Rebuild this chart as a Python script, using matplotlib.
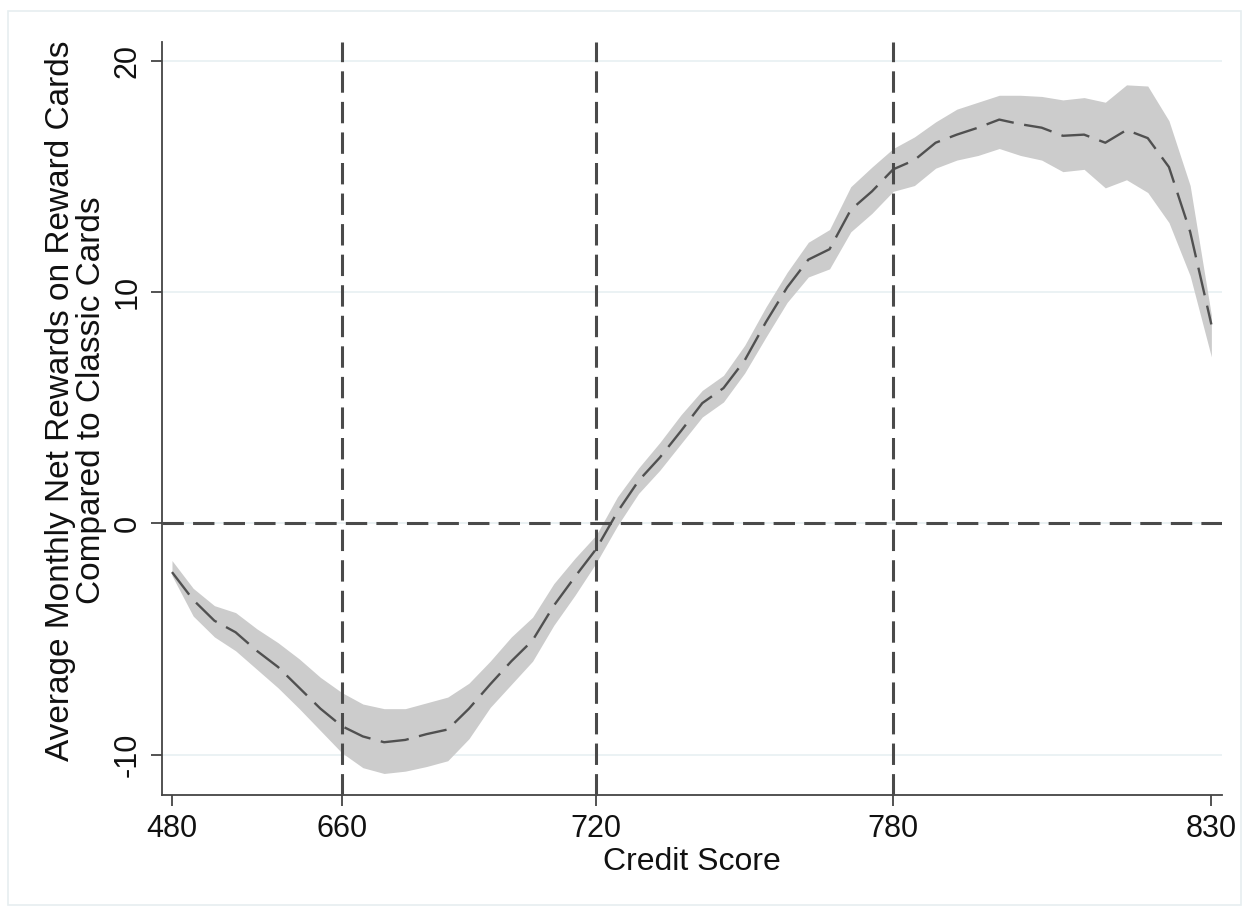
import numpy as np
import matplotlib
matplotlib.use('Agg')
import matplotlib.pyplot as plt
from matplotlib.patches import Rectangle

plt.rcParams['font.family'] = ['Liberation Sans', 'DejaVu Sans']

# 50 credit score bins (2-percentile bins), ticks labelled with the score
bins = np.arange(50)
tick_bins = [0, 8, 20, 34, 49]
tick_labels = ['480', '660', '720', '780', '830']
ref_bins = [8, 20, 34]

mean = [-2.1, -3.3, -4.2, -4.7, -5.5, -6.2, -7.1, -8.0, -8.75, -9.2,
        -9.45, -9.35, -9.1, -8.9, -8.0, -6.95, -5.95, -5.05, -3.55, -2.3,
        -1.1, 0.5, 1.85, 2.85, 4.0, 5.2, 5.85, 7.05, 8.7, 10.2,
        11.4, 11.85, 13.55, 14.35, 15.3, 15.7, 16.45, 16.8, 17.1, 17.45,
        17.25, 17.1, 16.75, 16.8, 16.45, 17.0, 16.65, 15.4, 12.6, 8.6]
upper = [-1.6, -2.8, -3.55, -3.85, -4.55, -5.15, -5.85, -6.65, -7.3, -7.8,
         -8.0, -8.0, -7.75, -7.5, -6.9, -5.95, -4.9, -4.05, -2.6, -1.5,
         -0.5, 1.15, 2.4, 3.5, 4.7, 5.75, 6.4, 7.7, 9.35, 10.85,
         12.15, 12.7, 14.55, 15.4, 16.2, 16.7, 17.35, 17.9, 18.2, 18.5,
         18.5, 18.45, 18.3, 18.4, 18.2, 18.95, 18.9, 17.4, 14.6, 9.0]
lower = [-2.25, -4.0, -4.9, -5.5, -6.3, -7.1, -8.0, -8.95, -9.9, -10.55,
         -10.8, -10.7, -10.5, -10.25, -9.3, -7.95, -6.95, -5.95, -4.4, -3.1,
         -1.7, -0.1, 1.3, 2.3, 3.45, 4.6, 5.25, 6.5, 8.05, 9.55,
         10.65, 11.0, 12.6, 13.4, 14.35, 14.6, 15.35, 15.7, 15.9, 16.2,
         15.9, 15.7, 15.2, 15.3, 14.5, 14.85, 14.3, 13.0, 10.7, 7.2]

fig = plt.figure(figsize=(12.51, 9.14), dpi=100)
fig.patches.append(Rectangle((0.006, 0.01), 0.986, 0.978, transform=fig.transFigure,
                             fill=False, edgecolor='#e6eef0', lw=1.2))
ax = fig.add_axes([0.1295, 0.1302, 0.8473, 0.8238])

ax.fill_between(bins, lower, upper, color='#cccccc', lw=0, zorder=2)
ax.plot(bins, mean, color='#505050', lw=1.7, dashes=(12, 4.5), zorder=3)

for b in ref_bins:
    ax.axvline(b, color='#4a4a4a', lw=2.2, dashes=(7, 3), zorder=4, clip_on=False)
ax.axhline(0, color='#4a4a4a', lw=2.2, dashes=(7, 3), zorder=4)

ax.set_xlim(-0.47, 49.5)
ax.set_ylim(-11.73, 20.8)
ax.set_xticks(tick_bins)
ax.set_xticklabels(tick_labels)
ax.set_yticks([-10, 0, 10, 20])
ax.set_yticklabels(['-10', '0', '10', '20'], rotation=90, va='center')
ax.yaxis.grid(True, color='#e8f0f2', lw=1.2, zorder=0)
ax.set_axisbelow(True)

for s in ['top', 'right']:
    ax.spines[s].set_visible(False)
for s in ['left', 'bottom']:
    ax.spines[s].set_color('#444444')
    ax.spines[s].set_linewidth(1.3)
ax.tick_params(axis='both', length=8, width=1.3, color='#444444',
               labelsize=22, labelcolor='#111111', pad=6)

ax.set_xlabel('Credit Score', fontsize=23, color='#111111', labelpad=2)
ax.set_ylabel('Average Monthly Net Rewards on Reward Cards\nCompared to Classic Cards',
              fontsize=24, color='#111111', linespacing=1.0)
ax.yaxis.set_label_coords(-0.052, 0.524)

fig.savefig('out.png', dpi=100, facecolor='white')
